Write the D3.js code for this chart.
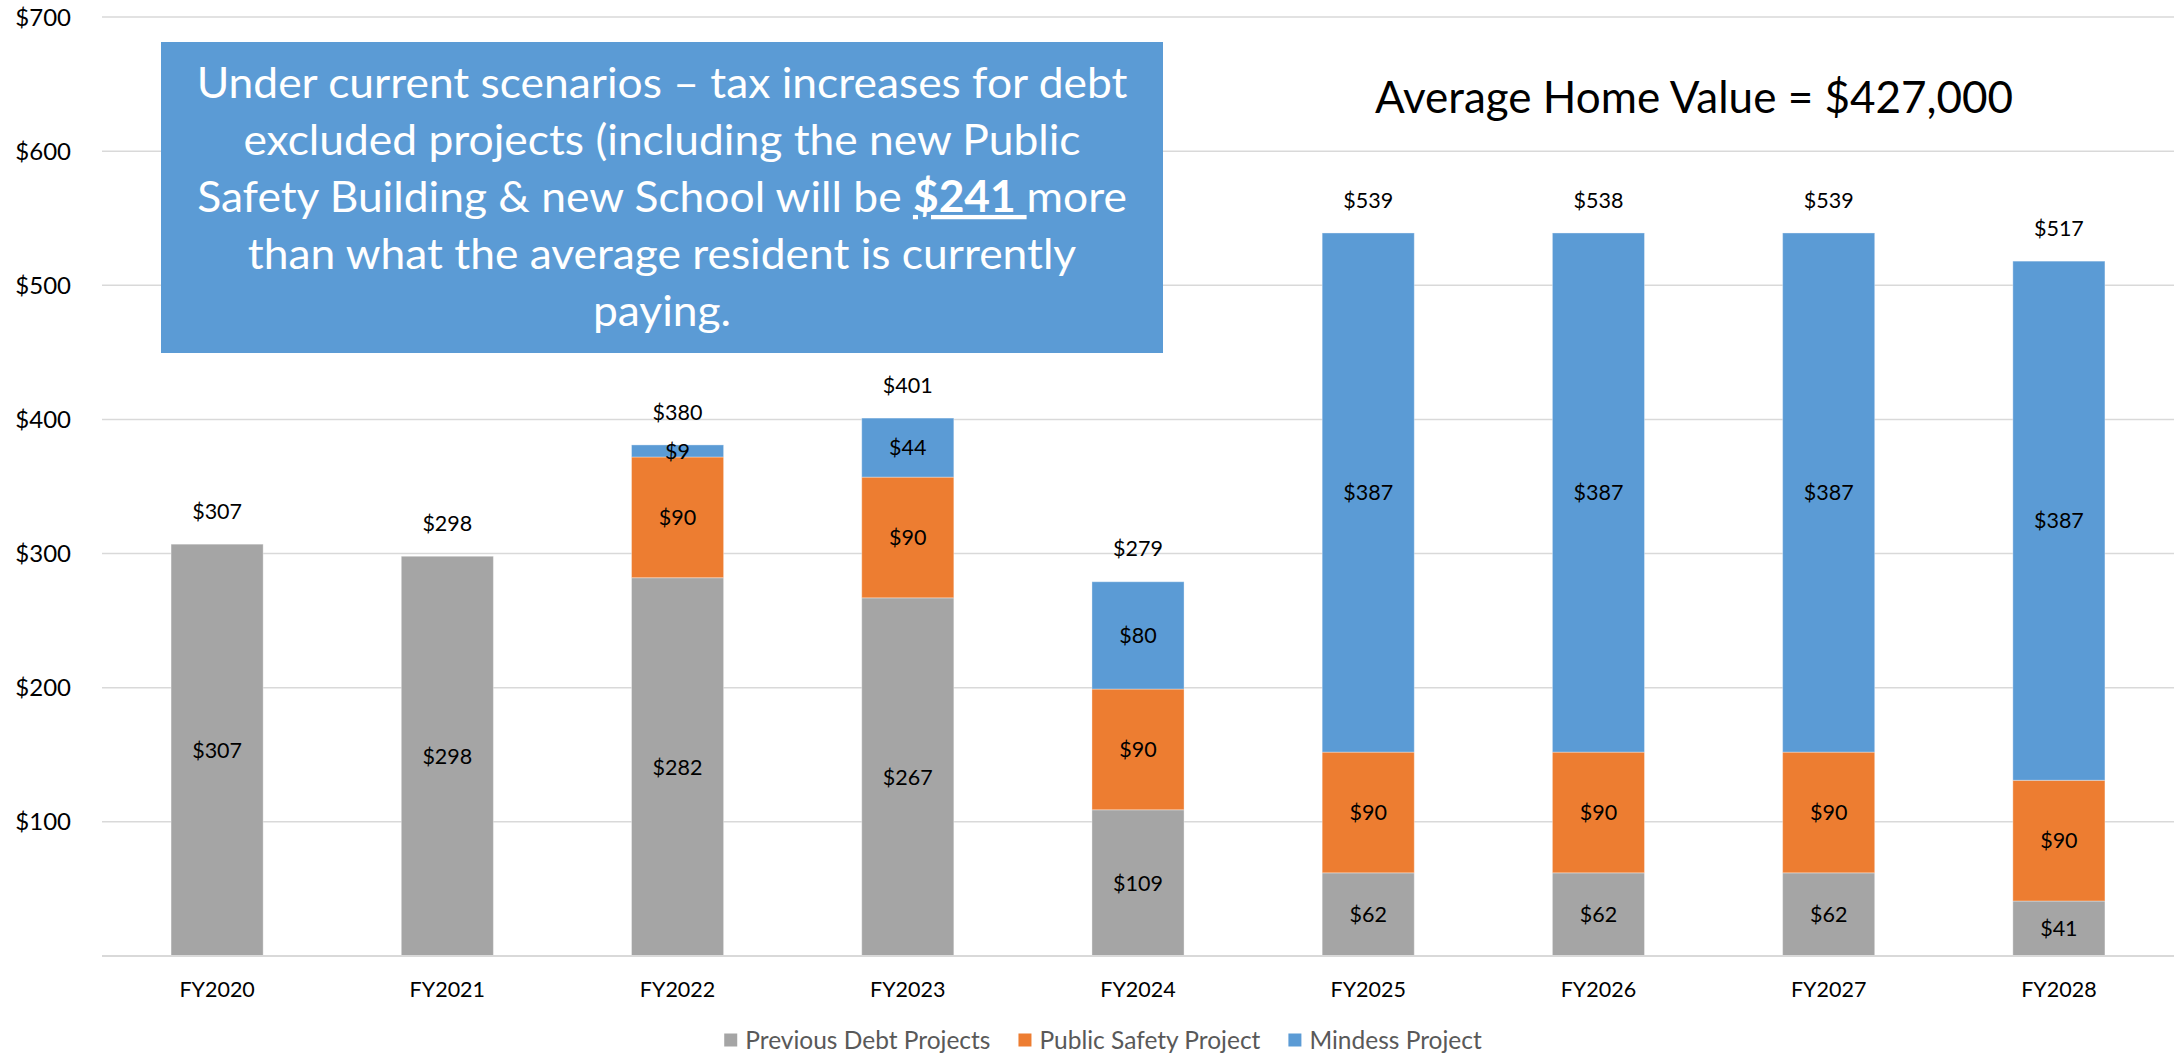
<!DOCTYPE html>
<html><head><meta charset="utf-8">
<script src="https://cdn.jsdelivr.net/npm/d3@7"></script>
<style>
body{margin:0;background:#fff}
svg{display:block}
text{font-family:Lato,"Open Sans",sans-serif}
</style>
</head><body>
<svg id="chart" width="2178" height="1063"></svg>
<script>
const categories = ["FY2020","FY2021","FY2022","FY2023","FY2024","FY2025","FY2026","FY2027","FY2028"];
const previousDebt = [307,298,282,267,109,62,62,62,41];
const publicSafety = [0,0,90,90,90,90,90,90,90];
const mindess = [0,0,9,44,80,387,387,387,387];
const totals = [307,298,380,401,279,539,538,539,517];
const yTicks = [100,200,300,400,500,600,700];
const seriesNames = ["Previous Debt Projects","Public Safety Project","Mindess Project"];
const seriesColors = ["#A5A5A5","#ED7D31","#5B9BD5"];
const titleText = "Average Home Value = $427,000";
const boxLines = [
  [{t:"Under current scenarios \u2013 tax increases for debt"}],
  [{t:"excluded projects (including the new Public"}],
  [{t:"Safety Building & new School will be "},{t:"$241 ",b:true},{t:"more"}],
  [{t:"than what the average resident is currently"}],
  [{t:"paying."}]
];

const svg = d3.select("#chart");
const plot = {left:102, right:2174, top:17, bottom:956};

const keys = ["prev","ps","mind"];
const rows = categories.map((c,i)=>({cat:c, prev:previousDebt[i], ps:publicSafety[i], mind:mindess[i], total:totals[i]}));
const stacked = d3.stack().keys(keys)(rows);

const x = d3.scaleBand().domain(categories).range([plot.left, plot.right]).paddingInner(0.6).paddingOuter(0.3);
const y = d3.scaleLinear().domain([0,700]).range([plot.bottom, plot.top]);

// gridlines
svg.append("g").selectAll("line").data(yTicks).join("line")
  .attr("x1", plot.left).attr("x2", plot.right)
  .attr("y1", d=>y(d)).attr("y2", d=>y(d))
  .attr("stroke","#D9D9D9").attr("stroke-width",1.5);
// y labels
svg.append("g").selectAll("text").data(yTicks).join("text")
  .attr("x", 71).attr("y", d=>y(d)).attr("dy","0.36em")
  .attr("text-anchor","end").attr("font-size",24).attr("fill","#000")
  .text(d=>"$"+d);

// bars
const layers = svg.append("g").selectAll("g").data(stacked).join("g")
  .attr("fill",(d,i)=>seriesColors[i]);
layers.selectAll("rect").data(d=>d.filter(s=>s[1]-s[0]>0)).join("rect")
  .attr("x", d=>x(d.data.cat)).attr("width", x.bandwidth())
  .attr("y", d=>y(d[1])).attr("height", d=>y(d[0])-y(d[1]))
  .attr("stroke","#ffffff").attr("stroke-opacity",0.35).attr("stroke-width",1);

// baseline
svg.append("line").attr("x1",plot.left).attr("x2",plot.right)
  .attr("y1",y(0)).attr("y2",y(0)).attr("stroke","#D9D9D9").attr("stroke-width",2);

// segment labels
stacked.forEach(layer=>{
  svg.append("g").selectAll("text").data(layer.filter(s=>s[1]-s[0]>0)).join("text")
    .attr("x", d=>x(d.data.cat)+x.bandwidth()/2)
    .attr("y", d=>y((d[0]+d[1])/2)).attr("dy","0.36em")
    .attr("text-anchor","middle").attr("font-size",21.5).attr("fill","#000")
    .text(d=>"$"+(d[1]-d[0]));
});

// total labels
const topVals = stacked[stacked.length-1];
svg.append("g").selectAll("text").data(topVals).join("text")
  .attr("x", d=>x(d.data.cat)+x.bandwidth()/2)
  .attr("y", d=>y(d[1])-33).attr("dy","0.36em")
  .attr("text-anchor","middle").attr("font-size",21.5).attr("fill","#000")
  .text(d=>"$"+d.data.total);

// x axis labels
svg.append("g").selectAll("text").data(categories).join("text")
  .attr("x", d=>x(d)+x.bandwidth()/2).attr("y", 989).attr("dy","0.36em")
  .attr("text-anchor","middle").attr("font-size",21.5).attr("fill","#000")
  .text(d=>d);

// legend
const leg = svg.append("g");
let lx = 0;
seriesNames.forEach((n,i)=>{
  const g = leg.append("g");
  g.append("rect").attr("x",lx).attr("y",-6.5).attr("width",13).attr("height",13).attr("fill",seriesColors[i]);
  const t = g.append("text").attr("x",lx+21).attr("y",0).attr("dy","0.36em")
    .attr("font-size",24.5).attr("fill","#595959").text(n);
  lx += 21 + t.node().getComputedTextLength() + 28;
});
const legW = lx - 28;
leg.attr("transform",`translate(${1103 - legW/2},1040)`);

// title
svg.append("text").attr("x",1694).attr("y",113).attr("text-anchor","middle")
  .attr("font-size",44).attr("fill","#000").text(titleText);

// text box
const box = {x:161, y:42, w:1002, h:311};
svg.append("rect").attr("x",box.x).attr("y",box.y).attr("width",box.w).attr("height",box.h).attr("fill","#5B9BD5");
const cx = box.x + box.w/2;
const baselines = [98,155,212,269,326];
const lineGroups = boxLines.map((parts,i)=>{
  const g = svg.append("g");
  const t = g.append("text").attr("text-anchor","middle").attr("font-size",43).attr("fill","#fff");
  parts.forEach(p=>{
    const ts = t.append("tspan").text(p.t);
    if(p.b){ ts.attr("font-weight","bold").attr("text-decoration","underline"); }
  });
  return {g,t,i};
});
const w0 = lineGroups[0].t.node().getComputedTextLength();
const sx = 931 / w0;
lineGroups.forEach(({g,i})=>{
  g.attr("transform",`translate(${cx},${baselines[i]}) scale(${sx},1)`);
});
</script>
</body></html>
